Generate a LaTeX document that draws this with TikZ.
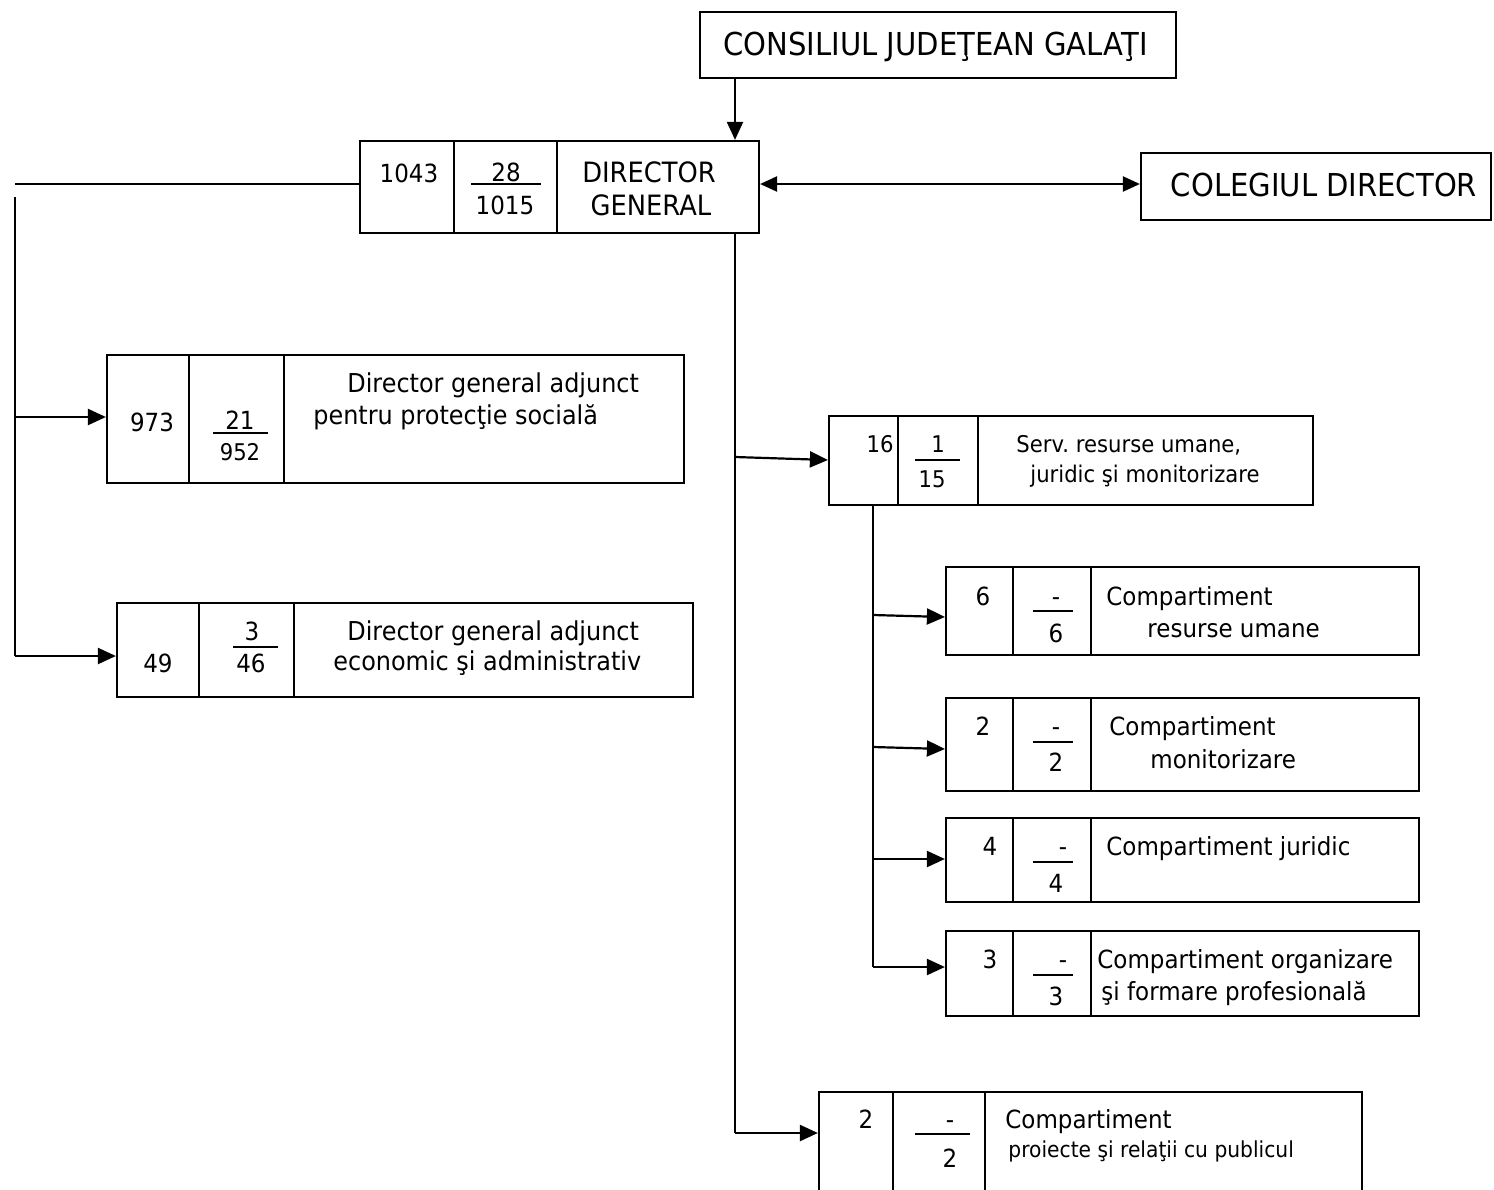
\documentclass[tikz,border=0pt]{standalone}
\usepackage{fontspec}
\setmainfont{DejaVu Sans}[FakeStretch=0.92]
\usetikzlibrary{arrows.meta,fit}
\frenchspacing
\tikzset{
  box/.style={draw, line width=1.1pt, inner sep=0pt},
  conn/.style={line width=1.1pt},
  arr/.style={conn, -{Triangle[length=9pt,width=8pt]}},
  arrb/.style={conn, {Triangle[length=8.5pt,width=7.5pt]}-{Triangle[length=8.5pt,width=7.5pt]}},
  lbl/.style={inner sep=0pt, anchor=base},
  lblw/.style={inner sep=0pt, anchor=base west},
  lble/.style={inner sep=0pt, anchor=base east},
  fs/.style={font=\fontsize{#1}{#1}\selectfont},
}
\begin{document}
\begin{tikzpicture}[x=0.5pt,y=-0.5pt]
\useasboundingbox (0,0) rectangle (1494,1189);
\clip (0,0) rectangle (1494,1189);
\fill[white] (0,0) rectangle (1494,1189);

% Consiliul Judetean
\node[box, fit={(700,12)(1176,78)}] (cj) {};
\node[lblw, fs=15.8] (cjt) at (723,55) {CONSILIUL JUDEŢEAN GALAŢI};

% Director general
\node[box, fit={(360,141)(759,233)}] (dg) {};
\draw[conn] (454,141) -- (454,233);
\draw[conn] (557,141) -- (557,233);
\draw[conn] (471,184) -- (541,184);
\node[lbl, fs=12.5] (dg1) at (409,182) {1043};
\node[lbl, fs=12.5] (dg2) at (506,181) {28};
\node[lbl, fs=12.5] (dg3) at (505,214) {1015};
\node[lbl, fs=14] (dg4) at (649,182) {DIRECTOR};
\node[lbl, fs=14] (dg5) at (651,215) {GENERAL};

% Colegiul director
\node[box, fit={(1141,153)(1491,220)}] (col) {};
\node[lbl, fs=15.8] (colt) at (1324,196) {COLEGIUL DIRECTOR};

% Box 1
\node[box, fit={(107,355)(684,483)}] (b1) {};
\draw[conn] (189,355) -- (189,483);
\draw[conn] (284,355) -- (284,483);
\draw[conn] (213,433) -- (268,433);
\node[lbl, fs=12.5] (b1a) at (152,431) {973};
\node[lbl, fs=12.5] (b1b) at (240,429) {21};
\node[lbl, fs=11.5] (b1c) at (240,460) {952};
\node[lblw, fs=13] (b1d) at (347,392) {Director general adjunct};
\node[lblw, fs=13] (b1e) at (313,424) {pentru protecţie socială};

% Box 2
\node[box, fit={(117,603)(693,697)}] (b2) {};
\draw[conn] (199,603) -- (199,697);
\draw[conn] (294,603) -- (294,697);
\draw[conn] (233,647) -- (278,647);
\node[lbl, fs=12.5] (b2a) at (158,672) {49};
\node[lbl, fs=12.5] (b2b) at (252,640) {3};
\node[lbl, fs=12.5] (b2c) at (251,672) {46};
\node[lblw, fs=13] (b2d) at (347,640) {Director general adjunct};
\node[lblw, fs=13] (b2e) at (333,670) {economic şi administrativ};

% Serviciu
\node[box, fit={(829,416)(1313,505)}] (sr) {};
\draw[conn] (898,416) -- (898,505);
\draw[conn] (978,416) -- (978,505);
\draw[conn] (915,460) -- (960,460);
\node[lble, fs=11.5] (sra) at (894,452) {16};
\node[lbl, fs=11.5] (srb) at (938,452) {1};
\node[lbl, fs=11.5] (src) at (932,487) {15};
\node[lblw, fs=11.5] (srd) at (1016,452) {Serv. resurse umane,};
\node[lblw, fs=11.5] (sre) at (1030,482) {juridic şi monitorizare};

% Compartiment A
\node[box, fit={(946,567)(1419,655)}] (ca) {};
\draw[conn] (1013,567) -- (1013,655);
\draw[conn] (1091,567) -- (1091,655);
\draw[conn] (1033,611) -- (1073,611);
\node[lbl, fs=12.5] (caa) at (983,605) {6};
\node[lbl, fs=12.5] (cab) at (1056,605) {-};
\node[lbl, fs=12.5] (cac) at (1056,642) {6};
\node[lblw, fs=12.5] (cad) at (1106,605) {Compartiment};
\node[lblw, fs=12.5] (cae) at (1147,637) {resurse umane};

% Compartiment B
\node[box, fit={(946,698)(1419,791)}] (cb) {};
\draw[conn] (1013,698) -- (1013,791);
\draw[conn] (1091,698) -- (1091,791);
\draw[conn] (1033,742) -- (1073,742);
\node[lbl, fs=12.5] (cba) at (983,735) {2};
\node[lbl, fs=12.5] (cbb) at (1056,735) {-};
\node[lbl, fs=12.5] (cbc) at (1056,771) {2};
\node[lblw, fs=12.5] (cbd) at (1109,735) {Compartiment};
\node[lblw, fs=12.5] (cbe) at (1150,768) {monitorizare};

% Compartiment C
\node[box, fit={(946,818)(1419,902)}] (cc) {};
\draw[conn] (1013,818) -- (1013,902);
\draw[conn] (1091,818) -- (1091,902);
\draw[conn] (1033,862) -- (1073,862);
\node[lbl, fs=12.5] (cca) at (990,855) {4};
\node[lbl, fs=12.5] (ccb) at (1063,855) {-};
\node[lbl, fs=12.5] (ccc) at (1056,892) {4};
\node[lblw, fs=12.5] (ccd) at (1106,855) {Compartiment juridic};

% Compartiment D
\node[box, fit={(946,931)(1419,1016)}] (cd) {};
\draw[conn] (1013,931) -- (1013,1016);
\draw[conn] (1091,931) -- (1091,1016);
\draw[conn] (1033,975) -- (1073,975);
\node[lbl, fs=12.5] (cda) at (990,968) {3};
\node[lbl, fs=12.5] (cdb) at (1063,968) {-};
\node[lbl, fs=12.5] (cdc) at (1056,1005) {3};
\node[lblw, fs=12.5] (cdd) at (1097,968) {Compartiment organizare};
\node[lblw, fs=12.5] (cde) at (1101,1000) {şi formare profesională};

% Compartiment proiecte
\node[box, fit={(819,1092)(1362,1200)}] (pr) {};
\draw[conn] (893,1092) -- (893,1200);
\draw[conn] (985,1092) -- (985,1200);
\draw[conn] (915,1134) -- (970,1134);
\node[lbl, fs=12.5] (pra) at (866,1128) {2};
\node[lbl, fs=12.5] (prb) at (950,1128) {-};
\node[lbl, fs=12.5] (prc) at (950,1167) {2};
\node[lblw, fs=12.5] (prd) at (1005,1128) {Compartiment};
\node[lblw, fs=11] (pre) at (1008,1157) {proiecte şi relaţii cu publicul};

% Connectors
\coordinate (vx) at (735,0);
\coordinate (hy) at (0,184);
\draw[arr] (cj.south -| vx) -- (dg.north -| vx);
\draw[arrb] (dg.east |- hy) -- (col.west |- hy);
\coordinate (lx) at (15,0);
\draw[conn] (dg.west |- hy) -- (lx |- hy);
\coordinate (l1) at (15,197);
\coordinate (l2) at (15,656);
\coordinate (l3) at (15,417);
\draw[conn] (l1) -- (l2);
\draw[arr] (l3) -- (l3 -| b1.west);
\draw[arr] (l2) -- (l2 -| b2.west);

\coordinate (m1) at (735,1133);
\coordinate (m2) at (735,457);
\coordinate (m2e) at (0,460);
\draw[conn] (dg.south -| vx) -- (m1);
\draw[arr] (m1) -- (m1 -| pr.west);
\draw[arr] (m2) -- (m2e -| sr.west);

\coordinate (s0) at (873,0);
\coordinate (sa) at (873,615);
\coordinate (sae) at (0,617);
\coordinate (sb) at (873,747);
\coordinate (sbe) at (0,749);
\coordinate (sc) at (873,859);
\coordinate (sd) at (873,967);
\draw[conn] (sr.south -| s0) -- (sd);
\draw[arr] (sa) -- (sae -| ca.west);
\draw[arr] (sb) -- (sbe -| cb.west);
\draw[arr] (sc) -- (sc -| cc.west);
\draw[arr] (sd) -- (sd -| cd.west);
\end{tikzpicture}
\end{document}
